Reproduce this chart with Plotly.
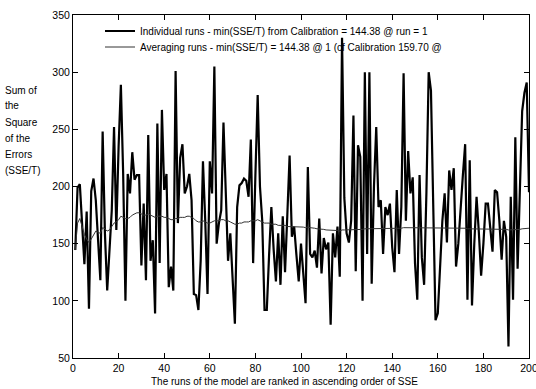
import plotly.graph_objects as go

runs = list(range(1, 201))

individual_sse = [
    144.4, 199, 202, 165, 132, 178, 93, 196, 207, 188,
    147, 118, 248, 159, 109, 140, 179, 252, 162, 235,
    289, 211, 100, 211, 194, 230, 206, 210, 210, 131,
    185, 118, 245, 135, 153, 89, 255, 133, 267, 197,
    211, 112, 130, 109, 301, 168, 225, 237, 194, 200,
    211, 188, 106, 105, 92, 135, 222, 170, 106, 222,
    194, 305, 150, 168, 179, 256, 190, 135, 159, 125,
    80, 182, 201, 203, 207, 205, 191, 241, 133, 210,
    280, 200, 170, 92, 92, 140, 182, 145, 117, 159,
    114, 174, 125, 175, 227, 156, 165, 140, 117, 150,
    123, 98, 217, 141, 138, 144, 129, 172, 124, 155,
    145, 151, 79, 159, 138, 165, 121, 330, 190, 159,
    151, 170, 262, 126, 236, 226, 100, 300, 141, 300,
    115, 200, 252, 182, 188, 141, 182, 175, 185, 147,
    125, 197, 141, 182, 299, 170, 231, 194, 208, 133,
    101, 210, 138, 114, 194, 300, 284, 188, 83, 89,
    130, 170, 194, 151, 214, 197, 216, 130, 150, 176,
    210, 237, 101, 223, 96, 150, 191, 160, 122, 150,
    185, 185, 165, 143, 197, 195, 170, 136, 170, 156,
    60, 191, 101, 243, 128, 188, 266, 282, 291, 195,
]

averaging_sse = [
    144.4, 168, 172, 165, 158, 154, 151, 154, 158, 161,
    160, 159, 164, 163, 161, 162, 165, 168, 169, 171,
    174, 173, 172, 172, 173, 175, 176, 177, 177, 176,
    175, 175, 176, 175, 174, 173, 174, 174, 174, 173,
    173, 172, 171, 171, 172, 172, 173, 173, 173, 174,
    174, 173, 172, 170, 169, 169, 170, 169, 168, 168,
    169, 170, 170, 170, 171, 171, 170, 170, 169, 168,
    167, 167, 168, 168, 169, 169, 169, 170, 170, 170,
    171, 170, 169, 168, 168, 168, 167, 167, 167, 166,
    166, 166, 166, 165, 165, 165, 165, 165, 165, 165,
    164.5, 164, 164.5, 164, 164, 163.5, 163, 163, 163, 162.5,
    162, 162, 161.5, 161.5, 161.5, 161.5, 161, 162, 162, 162,
    162, 162, 162.5, 162.5, 162.5, 162.5, 162.5, 163, 163, 163,
    163, 163, 163.5, 163.5, 163.5, 163.5, 163.5, 163.5, 163.5, 163.5,
    163.5, 163.5, 163.5, 163.5, 164, 164, 164, 164, 164, 164,
    163.5, 163.5, 163.5, 163.5, 163.5, 164, 164, 164, 164, 163.5,
    163.5, 163.5, 163.5, 163.5, 163.5, 163.5, 163.5, 163.5, 163.5, 163.5,
    163.5, 163.5, 163, 163, 163, 163, 163, 163, 163, 163,
    163, 163, 163, 163, 163, 163, 162.5, 162.5, 162.5, 162.5,
    162, 162, 162, 162, 162, 162.5, 163, 163, 163.5, 163.5,
]

x_ticks = [0, 20, 40, 60, 80, 100, 120, 140, 160, 180, 200]
y_ticks = [50, 100, 150, 200, 250, 300, 350]

legend_individual = "Individual runs - min(SSE/T) from Calibration = 144.38 @ run = 1"
legend_averaging = "Averaging runs - min(SSE/T) = 144.38 @ 1 (cf Calibration 159.70 @"
y_title_lines = ["Sum of", "the", "Square", "of the", "Errors", "(SSE/T)"]
x_title = "The runs of the model are ranked in ascending order of SSE"

font_family = "Liberation Sans, Arial, sans-serif"

# plot-area geometry in pixels
W, H = 536, 389
L, R, T, B = 73, 7, 15, 31
plot_w = W - L - R
plot_h = H - T - B


def px_to_paper_x(px):
    return (px - L) / plot_w


def px_to_paper_y(py):
    return (H - B - py) / plot_h


fig = go.Figure()
fig.add_trace(go.Scatter(
    x=runs, y=individual_sse, mode="lines", name=legend_individual,
    line=dict(color="black", width=2.2), legend="legend",
))
fig.add_trace(go.Scatter(
    x=runs, y=averaging_sse, mode="lines", name=legend_averaging,
    line=dict(color="#333333", width=1), legend="legend2",
))

axis_common = dict(
    showline=True, linecolor="black", linewidth=1, mirror="ticks",
    ticks="inside", ticklen=5, tickwidth=1, tickcolor="black",
    showgrid=False, zeroline=False, automargin=False,
    tickfont=dict(family=font_family, size=10.5, color="black"),
)

fig.update_xaxes(range=[0, 200], tickvals=x_ticks, ticklabeloverflow="allow", **axis_common)
fig.update_yaxes(range=[50, 350], tickvals=y_ticks, ticklabeloverflow="allow", **axis_common)

# multi-line y-axis caption, left aligned
for i, line in enumerate(y_title_lines):
    fig.add_annotation(
        xref="paper", yref="paper",
        x=px_to_paper_x(3), y=px_to_paper_y(90 + 16 * i),
        xanchor="left", yanchor="middle", text=line, showarrow=False,
        font=dict(family=font_family, size=10, color="black"),
    )

fig.add_annotation(
    xref="paper", yref="paper",
    x=px_to_paper_x(284), y=px_to_paper_y(381),
    xanchor="center", yanchor="middle", text=x_title, showarrow=False,
    font=dict(family=font_family, size=10, color="black"),
)

legend_common = dict(
    xanchor="left", yanchor="middle",
    bgcolor="rgba(0,0,0,0)", borderwidth=0,
    font=dict(family=font_family, size=10, color="black"),
    itemwidth=30,
)

fig.update_layout(
    width=W, height=H,
    margin=dict(l=L, r=R, t=T, b=B, autoexpand=False),
    paper_bgcolor="white", plot_bgcolor="white",
    showlegend=True,
    legend=dict(x=px_to_paper_x(100), y=px_to_paper_y(31), **legend_common),
    legend2=dict(x=px_to_paper_x(100), y=px_to_paper_y(47), **legend_common),
)

fig.write_html("out.html")
